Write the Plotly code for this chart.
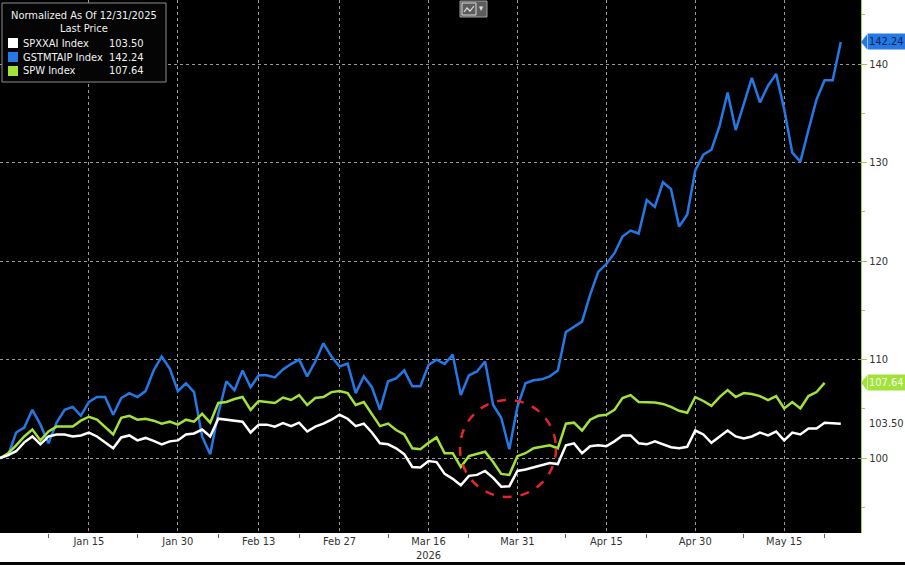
import pandas as pd
import plotly.graph_objects as go

# ---------------- data ----------------
dates = [d.strftime("%Y-%m-%d") for d in pd.bdate_range("2025-12-31", periods=105)]

spxxai = [100.0, 100.3, 100.7, 101.6, 102.2, 101.4, 102.2, 102.4, 102.4, 102.2,
          102.3, 102.6, 102.2, 101.6, 101.0, 102.1, 102.3, 101.8, 102.05, 101.75,
          101.4, 101.7, 101.8, 102.4, 102.5, 102.9, 102.2, 104.0, 103.9, 103.8,
          103.7, 102.6, 103.4, 103.4, 103.2, 103.55, 103.25, 103.6, 102.7, 103.2,
          103.5, 103.9, 104.4, 104.0, 103.25, 103.5, 102.6, 101.5, 101.4, 101.0,
          100.4, 99.1, 99.05, 99.7, 99.6, 98.4, 97.9, 97.25, 98.2, 98.3,
          98.7, 98.0, 97.1, 97.15, 98.7, 98.85, 99.05, 99.3, 99.5, 99.4,
          101.3, 101.5, 100.5, 101.2, 101.3, 101.2, 101.7, 102.3, 102.3, 101.5,
          101.4, 101.7, 101.4, 101.1, 101.0, 101.15, 102.8, 102.4, 101.55, 102.2,
          102.8, 102.2, 102.0, 102.2, 102.6, 102.3, 102.7, 101.8, 102.6, 102.4,
          103.0, 103.0, 103.6, 103.55, 103.50]

gstmtaip = [100.0, 100.3, 102.6, 103.1, 104.9, 103.4, 101.5, 103.6, 104.9, 105.2,
            104.3, 105.7, 106.2, 106.2, 104.4, 106.1, 106.6, 106.2, 106.8, 108.9,
            110.3, 109.1, 106.8, 107.6, 106.7, 102.2, 100.4, 104.5, 107.8, 106.9,
            108.9, 107.2, 108.4, 108.4, 108.2, 109.0, 109.55, 110.0, 108.3, 109.8,
            111.65, 110.3, 109.3, 109.6, 106.6, 108.3, 107.2, 104.9, 107.8, 108.1,
            108.9, 107.3, 107.3, 109.45, 110.0, 109.55, 110.5, 106.4, 108.4, 108.8,
            109.8, 105.4, 104.1, 100.9, 105.2, 107.6, 107.9, 108.0, 108.3, 108.9,
            112.8, 113.35, 113.85, 116.6, 118.9, 119.7, 120.8, 122.5, 123.1, 122.8,
            126.2, 125.5, 128.0, 127.3, 123.5, 124.7, 129.2, 130.8, 131.3, 133.7,
            137.1, 133.3, 136.0, 138.6, 136.1, 137.8, 139.0, 135.4, 131.0, 130.1,
            133.3, 136.4, 138.35, 138.35, 142.24]

spw = [100.0, 100.5, 101.3, 102.2, 102.9, 101.8, 102.7, 103.2, 103.2, 103.2,
       103.8, 104.2, 103.9, 103.1, 102.4, 104.1, 104.3, 103.9, 104.0, 103.8,
       103.5, 103.7, 103.4, 103.9, 103.7, 104.5, 103.6, 105.6, 105.7, 106.0,
       106.2, 104.9, 105.8, 105.7, 105.6, 106.15, 105.9, 106.4, 105.4, 106.1,
       106.2, 106.7, 106.8, 106.6, 105.4, 105.7, 104.5, 103.25, 103.5, 102.85,
       102.4, 101.0, 100.9, 101.55, 102.1, 100.5, 100.5, 99.1, 100.2, 100.4,
       100.65, 99.6, 98.4, 98.3, 100.2, 100.5, 101.0, 101.15, 101.3, 101.0,
       103.5, 103.6, 102.8, 103.9, 104.3, 104.4, 104.9, 106.1, 106.4, 105.7,
       105.7, 105.65, 105.5, 105.2, 104.8, 104.6, 106.2, 105.8, 105.3, 106.2,
       106.9, 106.2, 106.6, 106.5, 106.3, 105.9, 106.3, 105.05, 105.7, 105.05,
       106.3, 106.7, 107.64]

series_names = ["SPXXAI Index", "GSTMTAIP Index", "SPW Index"]
last_values = ["103.50", "142.24", "107.64"]

x_tick_vals = ["2026-01-15", "2026-01-30", "2026-02-13", "2026-02-27", "2026-03-16",
               "2026-03-31", "2026-04-15", "2026-04-30", "2026-05-15"]
x_tick_text = ["Jan 15", "Jan 30", "Feb 13", "Feb 27", "Mar 16<br>2026",
               "Mar 31", "Apr 15", "Apr 30", "May 15"]
x_minor_vals = ["2026-01-08", "2026-01-23", "2026-02-06", "2026-02-20", "2026-03-09",
                "2026-03-23", "2026-04-08", "2026-04-22", "2026-05-08", "2026-05-22"]
y_tick_vals = [100, 110, 120, 130, 140]

# ---------------- style ----------------
WHITE = "#ffffff"
BLUE = "#2479e6"
GREEN = "#a2e23a"
AXISGREEN = "#9ccf3a"
FONT = "DejaVu Sans Condensed, DejaVu Sans, sans-serif"

PW, PH = 861.0, 533.0  # plot area in px


def px(x):
    return x / PW


def py(y):
    return 1 - y / PH


fig = go.Figure()
fig.add_trace(go.Scatter(x=dates, y=gstmtaip, mode="lines", line=dict(color=BLUE, width=2.5),
                         name=series_names[1]))
fig.add_trace(go.Scatter(x=dates[:len(spw)], y=spw, mode="lines", line=dict(color=GREEN, width=2.5),
                         name=series_names[2]))
fig.add_trace(go.Scatter(x=dates, y=spxxai, mode="lines", line=dict(color=WHITE, width=2.5),
                         name=series_names[0]))

shapes = []
annotations = []

# legend box
shapes.append(dict(type="rect", xref="paper", yref="paper", x0=px(2), x1=px(166), y0=py(82), y1=py(3),
                   line=dict(color="#8c8c8c", width=1), fillcolor="#050505", layer="above"))
annotations.append(dict(xref="paper", yref="paper", x=px(84), y=py(15), text="Normalized As Of 12/31/2025",
                        showarrow=False, xanchor="center", yanchor="middle",
                        font=dict(family=FONT, size=11, color="#f0f0f0")))
annotations.append(dict(xref="paper", yref="paper", x=px(84), y=py(29), text="Last Price",
                        showarrow=False, xanchor="center", yanchor="middle",
                        font=dict(family=FONT, size=11, color="#f0f0f0")))
legend_colors = [WHITE, BLUE, GREEN]
for k, (nm, val, col) in enumerate(zip(series_names, last_values, legend_colors)):
    yc = 43 + 14 * k
    shapes.append(dict(type="rect", xref="paper", yref="paper", x0=px(8), x1=px(18),
                       y0=py(yc + 5), y1=py(yc - 5), line=dict(width=0), fillcolor=col, layer="above"))
    annotations.append(dict(xref="paper", yref="paper", x=px(21), y=py(yc), text=nm, showarrow=False,
                            xanchor="left", yanchor="middle", font=dict(family=FONT, size=11, color="#f0f0f0")))
    annotations.append(dict(xref="paper", yref="paper", x=px(107), y=py(yc), text=val, showarrow=False,
                            xanchor="left", yanchor="middle", font=dict(family=FONT, size=11, color="#f0f0f0")))

# small chart-type icon at top
shapes.append(dict(type="rect", xref="paper", yref="paper", x0=px(460), x1=px(487), y0=py(17), y1=py(1),
                   line=dict(color="#a0a0a0", width=1), fillcolor="#5c5c5c", layer="above"))
shapes.append(dict(type="rect", xref="paper", yref="paper", x0=px(462), x1=px(476), y0=py(15), y1=py(3),
                   line=dict(color="#d8d8d8", width=1), fillcolor="rgba(0,0,0,0)", layer="above"))
shapes.append(dict(type="path", xref="paper", yref="paper",
                   path=f"M {px(464)},{py(12)} L {px(467)},{py(8)} L {px(470)},{py(11)} L {px(474)},{py(6)}",
                   line=dict(color="#e0e0e0", width=1.2), layer="above"))
annotations.append(dict(xref="paper", yref="paper", x=px(482), y=py(8), text="▾", showarrow=False,
                        xanchor="center", yanchor="middle", font=dict(family=FONT, size=9, color="#dddddd")))

# red dashed circle
shapes.append(dict(type="circle", xref="paper", yref="paper", x0=px(460), x1=px(556), y0=py(497), y1=py(400),
                   line=dict(color="#e3262b", width=2.5, dash="dash"), layer="above"))

# bottom dark band
shapes.append(dict(type="rect", xref="paper", yref="paper", x0=-0.01, x1=1.1, y0=py(566), y1=py(562),
                   line=dict(width=0), fillcolor="#050505", layer="above"))

# right-side last value labels
tip = px(867)
for val, bg, fc in [(gstmtaip[-1], BLUE, "#0b1f4a"), (spw[-1], GREEN, "#f4fff0")]:
    shapes.append(dict(type="path", xref="paper", yref="y",
                       path=f"M {px(861)},{val} L {tip},{val + 0.75} L {tip},{val - 0.75} Z",
                       line=dict(width=0), fillcolor=bg, layer="above"))
    annotations.append(dict(xref="paper", yref="y", x=tip, y=val, text=f"{val:.2f}", showarrow=False,
                            xanchor="left", yanchor="middle", bgcolor=bg, borderpad=1,
                            font=dict(family=FONT, size=11, color=fc)))
annotations.append(dict(xref="paper", yref="y", x=px(867), y=spxxai[-1], text=f"{spxxai[-1]:.2f}",
                        showarrow=False, xanchor="left", yanchor="middle",
                        font=dict(family=FONT, size=11, color="#333333")))

fig.update_layout(
    width=905, height=565,
    margin=dict(l=0, r=905 - int(PW), t=0, b=565 - int(PH)),
    paper_bgcolor="#ffffff", plot_bgcolor="#000000",
    showlegend=False,
    shapes=shapes, annotations=annotations,
    font=dict(family=FONT, size=11, color="#333333"),
    xaxis=dict(
        type="date",
        range=["2025-12-31", "2026-05-28 12:00"],
        rangebreaks=[dict(bounds=["sat", "mon"])],
        tickmode="array", tickvals=x_tick_vals, ticktext=x_tick_text,
        ticks="",
        showgrid=True, gridcolor="#9a9a9a", griddash="dot", gridwidth=1,
        minor=dict(tickmode="array", tickvals=x_minor_vals, ticks="outside", ticklen=4,
                   tickcolor="#666666", showgrid=False),
        tickfont=dict(family=FONT, size=11, color="#333333"),
        showline=False, zeroline=False,
    ),
    yaxis=dict(
        side="right",
        range=[92.4, 146.5],
        tickmode="array", tickvals=y_tick_vals,
        ticks="outside", ticklen=5, tickcolor=AXISGREEN,
        showgrid=True, gridcolor="#9a9a9a", griddash="dot", gridwidth=1,
        minor=dict(dtick=5, ticks="outside", ticklen=3, tickcolor=AXISGREEN, showgrid=False),
        showline=True, linecolor=AXISGREEN, linewidth=1,
        tickfont=dict(family=FONT, size=11, color="#333333"),
        zeroline=False,
    ),
)

fig.write_html("out.html", config={"displayModeBar": False},
               post_script="document.body.style.margin='0px';document.body.style.overflow='hidden';")
